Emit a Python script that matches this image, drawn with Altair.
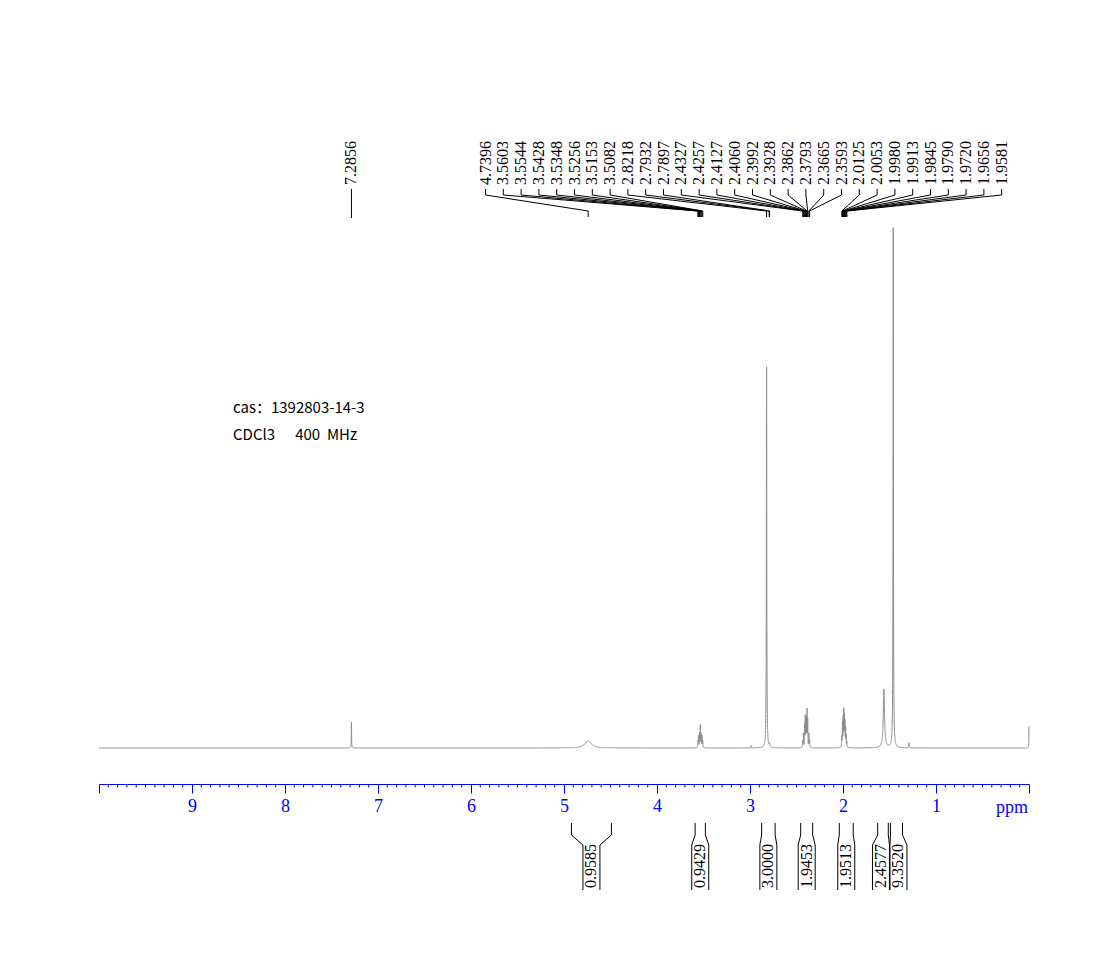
import numpy as np
import pandas as pd
import altair as alt

# ---------------- data ----------------
# spectrum peaks: position (ppm), height (rel. units, tallest = 100), half width (ppm)
peak_ppm = [7.2856, 4.7396,
            3.5603, 3.5544, 3.5428, 3.5348, 3.5256, 3.5153, 3.5082,
            2.9900, 2.8218, 2.7932, 2.7897,
            2.4327, 2.4257, 2.4127, 2.4060, 2.3992, 2.3928, 2.3862, 2.3793, 2.3665, 2.3593,
            2.0125, 2.0053, 1.9980, 1.9913, 1.9845, 1.9790, 1.9720, 1.9656, 1.9581,
            1.5600, 1.4600, 1.2900, 0.0000]
peak_height = [5.0, 1.4,
               1.2, 2.2, 2.6, 4.2, 2.6, 2.2, 1.2,
               0.5, 73.3, 0.4, 0.4,
               1.2, 2.6, 4.2, 5.6, 4.8, 5.2, 6.8, 5.0, 2.6, 1.4,
               2.0, 4.6, 5.4, 6.8, 5.6, 4.4, 3.6, 2.2, 1.0,
               11.3, 100.0, 1.0, 4.2]
peak_hwhm = [0.002, 0.04,
             0.002, 0.002, 0.002, 0.002, 0.002, 0.002, 0.002,
             0.002, 0.0025, 0.002, 0.002,
             0.0018, 0.0018, 0.0018, 0.0018, 0.0018, 0.0018, 0.0018, 0.0018, 0.0018, 0.0018,
             0.0018, 0.0018, 0.0018, 0.0018, 0.0018, 0.0018, 0.0018, 0.0018, 0.0018,
             0.008, 0.0025, 0.003, 0.002]

# peak-pick labels (top)
label_ppm = [4.7396, 3.5603, 3.5544, 3.5428, 3.5348, 3.5256, 3.5153, 3.5082,
             2.8218, 2.7932, 2.7897, 2.4327, 2.4257, 2.4127, 2.4060, 2.3992,
             2.3928, 2.3862, 2.3793, 2.3665, 2.3593, 2.0125, 2.0053, 1.9980,
             1.9913, 1.9845, 1.9790, 1.9720, 1.9656, 1.9581]
solvent_ppm = 7.2856

# integrals (bottom)
int_text = ["0.9585", "0.9429", "3.0000", "1.9453", "1.9513", "2.4577", "9.3520"]
int_from = [4.92, 3.59, 2.875, 2.455, 2.04, 1.627, 1.49]
int_to = [4.49, 3.48, 2.73, 2.326, 1.89, 1.513, 1.36]

axis_ticks = list(range(0, 11))
NB = "\u00a0"
info_lines = ["cas\uff1a1392803-14-3", "CDCl3" + NB * 6 + "400" + NB * 2 + "MHz"]

# ---------------- layout helpers ----------------
X0, PXPPM = 99.0, 93.0          # page x of 10 ppm, pixels per ppm
BASE, PXU = 748.0, 5.2          # page y of baseline, pixels per intensity unit
TOP, AXY = 120.0, 784.0          # page y of plot top / axis line


def px2ppm(px):
    return 10.0 - (px - X0) / PXPPM


def ppm2px(p):
    return X0 + (10.0 - p) * PXPPM


def py2I(py):
    return (BASE - py) / PXU


xs = alt.Scale(domain=[10, 0], nice=False, zero=False)
ys = alt.Scale(domain=[py2I(AXY), py2I(TOP)], nice=False, zero=False)
x_axis = alt.Axis(values=axis_ticks, title=None, grid=False,
                  labelExpr="datum.value >= 1 && datum.value <= 9 ? datum.label : ''",
                  tickSize=9, tickWidth=1, domainWidth=1.2,
                  tickColor="#0000ff", domainColor="#0000ff", labelColor="#0000ff",
                  labelFont="Liberation Serif", labelFontSize=18, labelPadding=4,
                  labelFlush=False)

# ---------------- spectrum ----------------
grid = [np.linspace(0, 10, 2501)]
for p, w in zip(peak_ppm, peak_hwhm):
    span = max(0.03, 12 * w)
    grid.append(np.arange(p - span, p + span, min(0.0005, w / 3)))
    grid.append(np.array([p]))
x = np.unique(np.round(np.clip(np.concatenate(grid), 0, 10), 5))
yv = np.zeros_like(x)
for p, h, w in zip(peak_ppm, peak_height, peak_hwhm):
    yv += h / (1 + ((x - p) / w) ** 2)
spec = pd.DataFrame({"ppm": x.round(5), "I": yv.round(4)})

line = alt.Chart(spec).mark_line(color="#8c8c8c", strokeWidth=1).encode(
    x=alt.X("ppm:Q", scale=xs, axis=x_axis),
    y=alt.Y("I:Q", scale=ys, axis=None),
)

# ---------------- segments (minor ticks, peak-label leaders, integral brackets) ----------------
segs = []
for i in range(101):
    if i % 10 != 0:
        segs.append((i / 10, i / 10, py2I(AXY), py2I(AXY + 3.5), "#0000ff"))

lab_rows = []
for i, v in enumerate(label_ppm):
    lx = 485.5 + i * 17.8
    lab_rows.append({"x": px2ppm(lx), "y": py2I(185), "t": f"{v:.4f}"})
    segs += [
        (px2ppm(lx), px2ppm(lx), py2I(189), py2I(195), "#000000"),
        (px2ppm(lx), v, py2I(195), py2I(211), "#000000"),
        (v, v, py2I(211), py2I(217), "#000000"),
    ]
lab_rows.append({"x": solvent_ppm, "y": py2I(185), "t": f"{solvent_ppm:.4f}"})
segs.append((solvent_ppm, solvent_ppm, py2I(189), py2I(218), "#000000"))

centers = [(ppm2px(a) + ppm2px(b)) / 2 for a, b in zip(int_from, int_to)]
MINSEP = 17.5
for i in range(1, len(centers)):
    if centers[i] - centers[i - 1] < MINSEP:
        mid = (centers[i] + centers[i - 1]) / 2
        centers[i - 1] = mid - MINSEP / 2
        centers[i] = mid + MINSEP / 2
int_rows = []
for t, a, b, c in zip(int_text, int_from, int_to, centers):
    for outer, inner in ((ppm2px(a), c - 8.5), (ppm2px(b), c + 8.5)):
        po, pi = px2ppm(outer), px2ppm(inner)
        segs += [
            (po, po, py2I(823), py2I(835), "#000000"),
            (po, pi, py2I(835), py2I(845), "#000000"),
            (pi, pi, py2I(845), py2I(890), "#000000"),
        ]
    int_rows.append({"x": px2ppm(c), "y": py2I(888), "t": t})

seg_df = pd.DataFrame(segs, columns=["x", "x2", "y", "y2", "c"])
seg_chart = alt.Chart(seg_df).mark_rule(strokeWidth=1).encode(
    x=alt.X("x:Q", scale=xs, axis=x_axis), x2="x2:Q",
    y=alt.Y("y:Q", scale=ys, axis=None), y2="y2:Q",
    color=alt.Color("c:N", scale=None),
)

text_df = pd.DataFrame(lab_rows + int_rows)
texts = alt.Chart(text_df).mark_text(
    angle=270, align="left", baseline="middle", font="Liberation Serif",
    fontSize=16, color="#000000",
).encode(
    x=alt.X("x:Q", scale=xs, axis=x_axis),
    y=alt.Y("y:Q", scale=ys, axis=None),
    text="t:N",
)

ppm_df = pd.DataFrame({"x": [px2ppm(1012)], "y": [py2I(808)], "t": ["ppm"]})
ppm_text = alt.Chart(ppm_df).mark_text(
    align="center", baseline="middle", font="Liberation Serif", fontSize=18, color="#0000ff",
).encode(
    x=alt.X("x:Q", scale=xs, axis=x_axis),
    y=alt.Y("y:Q", scale=ys, axis=None),
    text="t:N",
)

info_df = pd.DataFrame({"x": [px2ppm(233)] * 2, "y": [py2I(408), py2I(435)], "t": info_lines})
info = alt.Chart(info_df).mark_text(
    align="left", baseline="middle", font="Noto Sans CJK SC", fontSize=15, color="#000000",
).encode(
    x=alt.X("x:Q", scale=xs, axis=x_axis),
    y=alt.Y("y:Q", scale=ys, axis=None),
    text="t:N",
)

chart = alt.layer(line, seg_chart, texts, ppm_text, info).properties(
    width=930, height=AXY - TOP,
    autosize=alt.AutoSizeParams(type="none"),
    padding={"left": 91, "top": 112, "right": 60, "bottom": 150},
).configure_view(strokeWidth=0)

chart.save("out.html", embed_options={"renderer": "svg", "actions": False})
